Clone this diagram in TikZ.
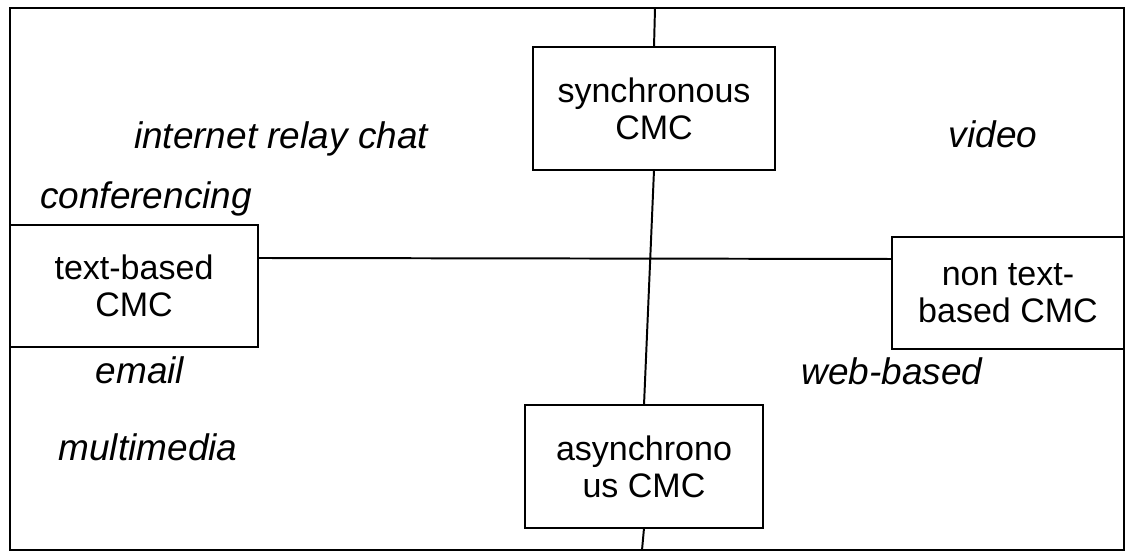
\documentclass[tikz,border=0pt]{standalone}
\usepackage{fontspec}
\setmainfont{Liberation Sans}
\usepackage{tikz}
\usetikzlibrary{positioning}

\tikzset{
  cmc/.style={draw, align=center, inner sep=0pt, outer sep=0pt,
    font=\fontsize{24.2}{26.3}\selectfont},
  tool/.style={anchor=base, inner sep=0pt, font=\fontsize{26.3}{30}\selectfont\itshape}
}

\begin{document}
\begin{tikzpicture}[x=0.025cm, y=-0.025cm, line width=1.4pt]
        \useasboundingbox (0,0) rectangle (1128,557);
        \draw (10,8) rectangle (1124,550);
        \coordinate (top) at (655,8);
        \coordinate (bot) at (642,550);

        \node[cmc, minimum width=6.05cm, minimum height=3.075cm] (sync) at (654,108.5) {synchronous\\CMC};
        \node[cmc, minimum width=5.95cm, minimum height=3.075cm] (async) at (644,466.5) {asynchrono\\us CMC};
        \node[cmc, minimum width=6.2cm, minimum height=3.05cm] (tb) at (134,286) {text-based\\CMC};
        \node[cmc, minimum width=5.8cm, minimum height=2.8cm] (ntb) at (1008,293) {non text-\\based CMC};

        \node[tool] (irc) at (281,149) {internet relay chat};
        \node[tool] (conf) at (146,208) {conferencing};
        \node[tool] (email) at (140,383) {email};
        \node[tool] (mm) at (148,460) {multimedia};
        \node[tool] (video) at (993,148) {video};
        \node[tool] (web) at (892,384) {web-based};

        \draw (top) -- (sync.north)
              (sync.south) -- (async.north)
              (async.south) -- (bot)
              ([yshift=0.7cm]tb.east) -- ([yshift=0.85cm]ntb.west);
    \end{tikzpicture}
\end{document}
